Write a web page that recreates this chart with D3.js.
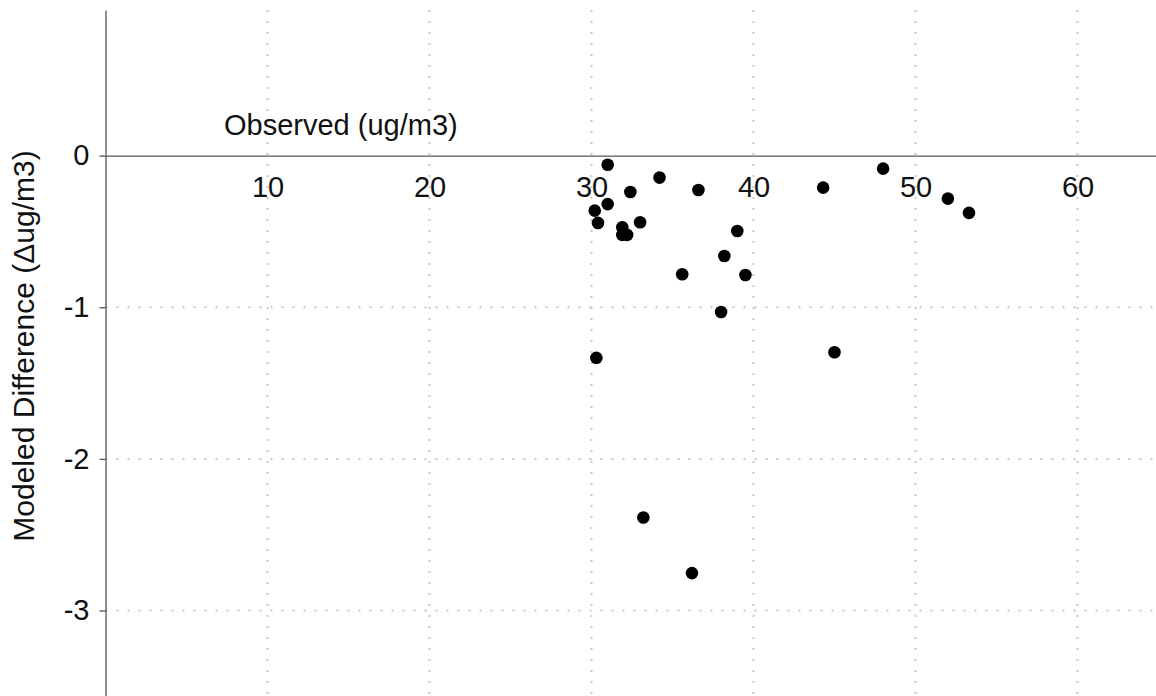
<!DOCTYPE html>
<html>
<head>
<meta charset="utf-8">
<script src="https://cdn.jsdelivr.net/npm/d3@7"></script>
<style>
  html, body { margin: 0; padding: 0; background: #fff; }
  svg { display: block; font-family: "Liberation Sans", Arial, Helvetica, sans-serif; }
</style>
</head>
<body>
<svg id="chart" width="1156" height="696"></svg>
<script>
// observed concentration (ug/m3) and modeled difference (Δug/m3)
const observed = [31.0, 34.2, 32.4, 36.6, 31.0, 30.2, 30.4, 33.0, 31.9, 31.9, 32.2, 39.0,
                  38.2, 35.6, 39.5, 44.3, 48.0, 52.0, 53.3, 38.0, 45.0, 30.3, 33.2, 36.2];
const modeledDiff = [-0.06, -0.145, -0.24, -0.227, -0.32, -0.363, -0.444, -0.44, -0.473, -0.523, -0.523, -0.497,
                     -0.662, -0.782, -0.787, -0.211, -0.086, -0.284, -0.378, -1.031, -1.297, -1.334, -2.386, -2.753];
const xTicks = [10, 20, 30, 40, 50, 60];
const yTicks = [0, -1, -2, -3];

const width = 1156, height = 696;
const fontSize = '29px';
const svg = d3.select('#chart');

const x = d3.scaleLinear().domain([0, 65]).range([105.5, 1158.5]);
const y = d3.scaleLinear().domain([0.96, -3.57]).range([10, 697]);

const grid = svg.append('g')
    .attr('stroke', '#c8c8c8')
    .attr('stroke-width', 2)
    .attr('stroke-dasharray', '2,9');

grid.selectAll('line.vx')
    .data(xTicks)
    .join('line')
    .attr('class', 'vx')
    .attr('x1', d => x(d)).attr('x2', d => x(d))
    .attr('y1', 10).attr('y2', height);

grid.selectAll('line.hy')
    .data(yTicks.filter(d => d !== 0))
    .join('line')
    .attr('class', 'hy')
    .attr('x1', x(0)).attr('x2', width)
    .attr('y1', d => y(d)).attr('y2', d => y(d));

// x axis sits on y = 0, labels hang below
const xAxis = svg.append('g')
    .attr('transform', `translate(0,${y(0)})`)
    .call(d3.axisBottom(x).tickValues(xTicks).tickSize(0).tickPadding(21).tickFormat(d3.format('d')));

const yAxis = svg.append('g')
    .attr('transform', `translate(${x(0)},0)`)
    .call(d3.axisLeft(y).tickValues(yTicks).tickSize(6).tickSizeOuter(0).tickPadding(10).tickFormat(d3.format('d')));

[xAxis, yAxis].forEach(ax => {
    ax.select('.domain').attr('stroke', '#555').attr('stroke-width', 1.3);
    ax.selectAll('.tick line').attr('stroke', '#555').attr('stroke-width', 1.3);
    ax.selectAll('.tick text')
        .attr('fill', '#111')
        .style('font-size', fontSize)
        .style('font-family', '"Liberation Sans", Arial, Helvetica, sans-serif');
});
yAxis.selectAll('.tick text').text(d => d === 0 ? '0' : '-' + Math.abs(d));

svg.append('text')
    .attr('x', 224)
    .attr('y', 135)
    .attr('fill', '#111')
    .style('font-size', fontSize)
    .text('Observed (ug/m3)');

svg.append('text')
    .attr('transform', 'translate(34,346) rotate(-90)')
    .attr('text-anchor', 'middle')
    .attr('fill', '#111')
    .style('font-size', '30px')
    .text('Modeled Difference (Δug/m3)');

svg.append('g')
    .selectAll('circle')
    .data(d3.zip(observed, modeledDiff))
    .join('circle')
    .attr('cx', d => x(d[0]))
    .attr('cy', d => y(d[1]))
    .attr('r', 6.3)
    .attr('fill', '#000');
</script>
</body>
</html>
